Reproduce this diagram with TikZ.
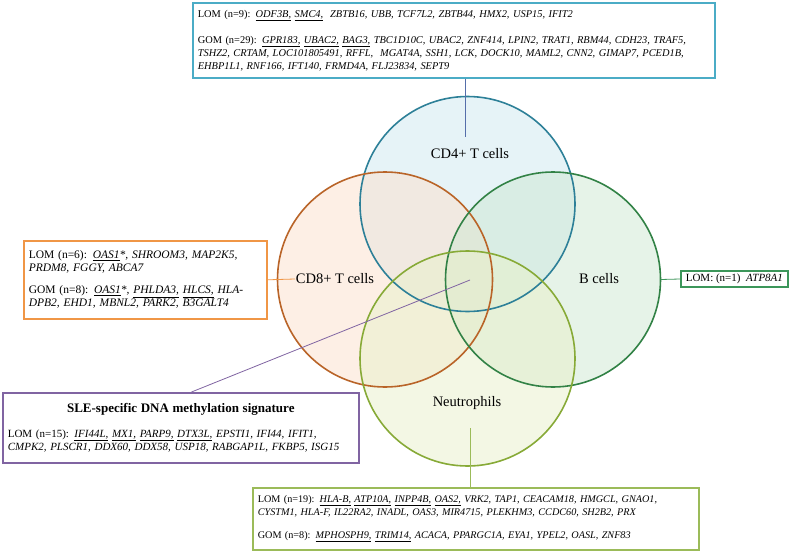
\documentclass[tikz,border=0pt]{standalone}
\usepackage{fontspec}
\setmainfont{Liberation Serif}
\usetikzlibrary{calc}
\hyphenpenalty=10000
\exhyphenpenalty=10000
% circle fills
\definecolor{cfourin}{RGB}{206,232,240}
\definecolor{cfourout}{RGB}{95,176,205}
\definecolor{ceightin}{RGB}{252,224,204}
\definecolor{ceightout}{RGB}{240,150,80}
\definecolor{cbin}{RGB}{206,232,211}
\definecolor{cbout}{RGB}{85,172,100}
\definecolor{cnin}{RGB}{233,241,202}
\definecolor{cnout}{RGB}{170,200,75}
% circle borders
\definecolor{cfourline}{RGB}{45,128,152}
\definecolor{ceightline}{RGB}{185,100,40}
\definecolor{cbline}{RGB}{50,130,70}
\definecolor{cnline}{RGB}{135,170,55}
% boxes
\definecolor{cbteal}{RGB}{75,172,198}
\definecolor{cborange}{RGB}{240,150,70}
\definecolor{cbpurple}{RGB}{128,100,162}
\definecolor{cbolive}{RGB}{155,187,89}
\definecolor{cbgreen}{RGB}{60,150,90}
\definecolor{linkblue}{RGB}{85,110,170}
\pgfdeclareradialshading{cfoursh}{\pgfpoint{0bp}{0bp}}{color(0bp)=(cfourin); color(30bp)=(cfourin); color(50bp)=(cfourout)}
\pgfdeclareradialshading{ceightsh}{\pgfpoint{0bp}{0bp}}{color(0bp)=(ceightin); color(30bp)=(ceightin); color(50bp)=(ceightout)}
\pgfdeclareradialshading{cbsh}{\pgfpoint{0bp}{0bp}}{color(0bp)=(cbin); color(30bp)=(cbin); color(50bp)=(cbout)}
\pgfdeclareradialshading{cnsh}{\pgfpoint{0bp}{0bp}}{color(0bp)=(cnin); color(30bp)=(cnin); color(50bp)=(cnout)}
\newcommand\gu[1]{\underline{#1}}
\tikzset{
  venn/.style={circle, minimum size=215pt, inner sep=0pt, fill opacity=0.5},
  ring/.style={draw=#1, line width=1.6pt},
  clabel/.style={font=\fontsize{14.5}{16}\selectfont, inner sep=0pt},
  gbox/.style={draw=#1, line width=1.6pt, fill=white, inner xsep=5pt, inner ysep=3pt,
    font=\fontsize{11}{13}\selectfont, align=left},
  link/.style={draw=#1, line width=0.8pt},
}
\begin{document}
\begin{tikzpicture}[x=1pt,y=-1pt]
\useasboundingbox (0,0) rectangle (800,551);
\fill[white] (0,0) rectangle (800,551);

% circles (fills)
\node[venn, shading=cfoursh] (cd4) at (467.5,204) {};
\node[venn, shading=ceightsh] (cd8) at (385,279.5) {};
\node[venn, shading=cbsh] (bc) at (553,279.5) {};
\node[venn, shading=cnsh] (ne) at (467.5,358.5) {};
% circle borders
\draw[ring=cfourline] (cd4.center) circle[radius=107.5pt];
\draw[ring=ceightline] (cd8.center) circle[radius=107.5pt];
\draw[ring=cbline] (bc.center) circle[radius=107.5pt];
\draw[ring=cnline] (ne.center) circle[radius=107.5pt];

% labels
\node[clabel] (l4) at (470,154) {CD4+ T cells};
\node[clabel] (l8) at (335,279) {CD8+ T cells};
\node[clabel] (lb) at (599,279) {B cells};
\node[clabel] (ln) at (467,403) {Neutrophils};

% boxes
\node[gbox=cbteal, font=\fontsize{10.4}{13}\selectfont, text width=512pt, minimum height=75pt, anchor=north west] (topbox) at (192,2)
{LOM (n=9): \textit{\gu{ODF3B,} \gu{SMC4,}\ \ ZBTB16, UBB, TCF7L2, ZBTB44, HMX2, USP15, IFIT2}\\[13pt]
GOM (n=29): \textit{\gu{GPR183,} \gu{UBAC2,} \gu{BAG3,} TBC1D10C, UBAC2, ZNF414, LPIN2, TRAT1, RBM44, CDH23, TRAF5,}\\
\textit{TSHZ2, CRTAM, LOC101805491, RFFL,\ \ MGAT4A, SSH1, LCK, DOCK10, MAML2, CNN2, GIMAP7, PCED1B,}\\
\textit{EHBP1L1, RNF166, IFT140, FRMD4A, FLJ23834, SEPT9}};

\node[gbox=cborange, font=\fontsize{11.5}{13}\selectfont, text width=233pt, minimum height=78pt, anchor=north west] (leftbox) at (23,240)
{LOM (n=6): \textit{\gu{OAS1}*, SHROOM3, MAP2K5,}\\
\textit{PRDM8, FGGY, ABCA7}\\[9pt]
GOM (n=8): \textit{\gu{OAS1}*, \gu{PHLDA3,} \gu{HLCS,} HLA-}\\
\textit{DPB2, EHD1, MBNL2, PARK2, B3GALT4}};

\node[gbox=cbgreen, anchor=west] (rightbox) at (680,279)
{LOM: (n=1)\ \ \textit{ATP8A1}};

\node[gbox=cbpurple, text width=346pt, minimum height=70pt, anchor=north west] (slebox) at (2,392)
{{\centering\fontsize{13}{15}\selectfont\bfseries SLE-specific DNA methylation signature\par}\vspace{12pt}
LOM (n=15): \textit{\gu{IFI44L,} \gu{MX1,} \gu{PARP9,}\ \gu{DTX3L,} EPSTI1, IFI44, IFIT1,}\\
\textit{CMPK2, PLSCR1, DDX60, DDX58, USP18, RABGAP1L, FKBP5, ISG15}};

\node[gbox=cbolive, font=\fontsize{10.2}{13}\selectfont, text width=436pt, minimum height=62pt, anchor=north west] (botbox) at (252,487)
{LOM (n=19): \textit{\gu{HLA-B,} \gu{ATP10A,} \gu{INPP4B,} \gu{OAS2,} VRK2, TAP1, CEACAM18, HMGCL, GNAO1,}\\
\textit{CYSTM1, HLA-F, IL22RA2, INADL, OAS3, MIR4715, PLEKHM3, CCDC60, SH2B2, PRX}\\[10pt]
GOM (n=8): \textit{\gu{MPHOSPH9,} \gu{TRIM14,} ACACA, PPARGC1A, EYA1, YPEL2, OASL, ZNF83}};

% connectors
\coordinate (cd4pin) at (465,137);
\draw[link=linkblue] (topbox.south -| cd4pin) -- (cd4pin);
\coordinate (cd8pin) at (295,279);
\draw[link=cborange] (leftbox.east) -- (cd8pin);
\draw[link=cbgreen] (bc.east) -- (rightbox.west);
\coordinate (core) at (470,280);
\draw[link=cbpurple] (core) -- ($(slebox.north west)!0.53!(slebox.north east)$);
\coordinate (npin) at (470,428);
\draw[link=cbolive] (npin) -- (npin |- botbox.north);
\end{tikzpicture}
\end{document}
